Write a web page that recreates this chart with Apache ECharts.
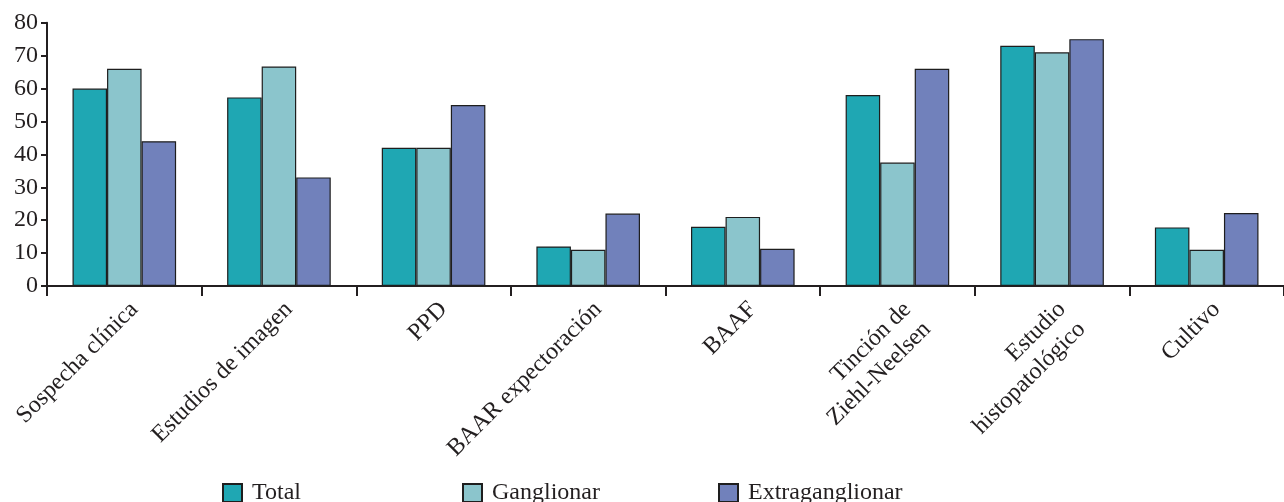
<!DOCTYPE html>
<html>
<head>
<meta charset="utf-8">
<script src="https://cdn.jsdelivr.net/npm/echarts@6/dist/echarts.min.js"></script>
<style>html,body{margin:0;padding:0;background:#fff}#c{width:1284px;height:502px}</style>
</head>
<body>
<div id="c"></div>
<script>
const categories = ["Sospecha clínica","Estudios de imagen","PPD","BAAR expectoración","BAAF","Tinción de\nZiehl-Neelsen","Estudio\nhistopatológico","Cultivo"];
const seriesNames = ["Total","Ganglionar","Extraganglionar"];
const total = [60, 57.3, 42, 12, 18, 58, 73, 17.8];
const ganglionar = [66, 66.7, 42, 11, 21, 37.5, 71, 11];
const extraganglionar = [44, 33, 55, 22, 11.3, 66, 75, 22.2];
const yTicks = [0,10,20,30,40,50,60,70,80];

const colors = ["#1fa7b3", "#8bc5cc", "#7181bb"];
const font = "'Liberation Serif', 'Times New Roman', serif";
const axisColor = "#231f20";
const FS = 24;

const chart = echarts.init(document.getElementById('c'));
const mkSeries = (name, data, i) => ({
  name, type: 'bar', data,
  barGap: '0%', barCategoryGap: '33%',
  itemStyle: { color: colors[i], borderColor: '#1e1e1e', borderWidth: 1.2 },
  emphasis: { disabled: true }
});
const legendPos = [222, 462, 718];
chart.setOption({
  animation: false,
  textStyle: { fontFamily: font },
  grid: { left: 47, right: -8, top: 22.7, bottom: 216, containLabel: false },
  legend: seriesNames.map((n, i) => ({
    data: [n], left: legendPos[i], top: 481, icon: 'rect', padding: 0,
    itemWidth: 19, itemHeight: 18, itemGap: 10,
    textStyle: { fontFamily: font, fontSize: FS, color: '#231f20', padding: [3,0,0,5] },
    selectedMode: false
  })),
  xAxis: {
    type: 'category', data: categories,
    axisLine: { lineStyle: { color: axisColor, width: 2 } },
    axisTick: { show: true, length: 10, lineStyle: { color: axisColor, width: 2 }, alignWithLabel: false },
    axisLabel: { interval: 0, rotate: 45, margin: 10, fontSize: FS, lineHeight: 28, color: '#231f20', fontFamily: font,
      verticalAlign: 'top' }
  },
  yAxis: {
    type: 'value', min: 0, max: 80, interval: 10,
    splitLine: { show: false },
    axisLine: { show: true, lineStyle: { color: axisColor, width: 2 } },
    axisTick: { show: true, length: 6, lineStyle: { color: axisColor, width: 2 } },
    axisLabel: { fontSize: FS, color: '#231f20', margin: 9, fontFamily: font,
      formatter: v => yTicks.includes(v) ? String(v) : '' }
  },
  series: [mkSeries(seriesNames[0], total, 0), mkSeries(seriesNames[1], ganglionar, 1), mkSeries(seriesNames[2], extraganglionar, 2)]
});
</script>
</body>
</html>
